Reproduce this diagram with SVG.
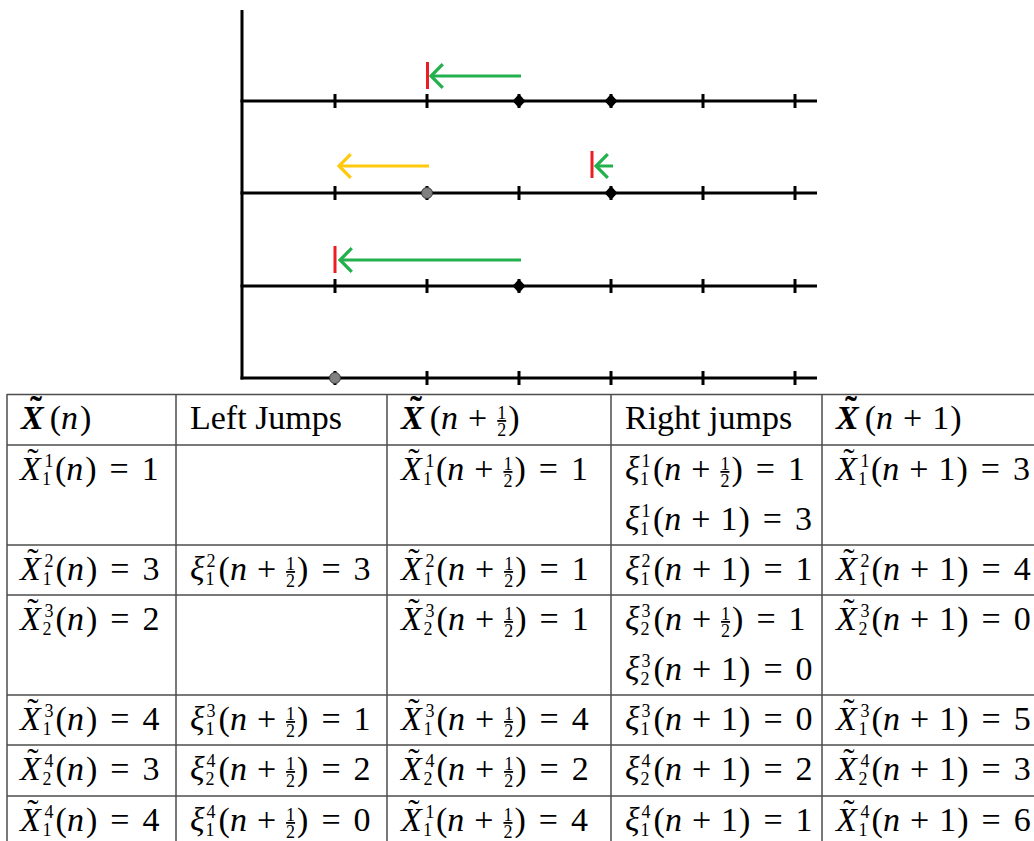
<svg xmlns="http://www.w3.org/2000/svg" width="1034" height="841" viewBox="0 0 1034 841">
<style>
.ax{stroke:#000;stroke-width:3;fill:none}
.tk{stroke:#000;stroke-width:3}
.dm{fill:#000}
.gc{fill:#808080;stroke:#333;stroke-width:1}
.red{stroke:#ed1c24;stroke-width:3}
.grn{stroke:#22b14c;stroke-width:3;fill:none}
.yel{stroke:#ffc90e;stroke-width:3;fill:none}
.grid{stroke:#4d4d4d;stroke-width:1.5;fill:none}
.t{font-family:"Liberation Serif","DejaVu Serif",serif;font-size:34px;fill:#000}
.i{font-style:italic}
.b{font-style:italic;font-weight:bold}
.tb{font-weight:bold;font-size:36px}
.s{font-size:18px}
.u{text-decoration:underline}
</style>
<defs>
<marker id="hg" markerUnits="userSpaceOnUse" markerWidth="20" markerHeight="30" refX="0" refY="0" orient="auto" overflow="visible" viewBox="-14 -14 16 28"><path d="M-11,-11 L0,0 L-11,11" stroke="#22b14c" stroke-width="3" fill="none"/></marker>
<marker id="hy" markerUnits="userSpaceOnUse" markerWidth="20" markerHeight="30" refX="0" refY="0" orient="auto" overflow="visible" viewBox="-14 -14 16 28"><path d="M-11,-11 L0,0 L-11,11" stroke="#ffc90e" stroke-width="3" fill="none"/></marker>
</defs>
<rect width="1034" height="841" fill="#fff"/>

<g id="axes">
<line class="ax" x1="242" y1="10" x2="242" y2="379.5"/>
<line class="ax" x1="240.5" y1="101" x2="817" y2="101"/>
<line class="ax" x1="240.5" y1="193" x2="817" y2="193"/>
<line class="ax" x1="240.5" y1="286" x2="817" y2="286"/>
<line class="ax" x1="240.5" y1="378" x2="817" y2="378"/>
</g>

<g id="ticks">
<path class="tk" d="M335,94V108M427,94V108M519,94V108M611,94V108M703,94V108M795,94V108"/>
<path class="tk" d="M335,186V200M427,186V200M519,186V200M611,186V200M703,186V200M795,186V200"/>
<path class="tk" d="M335,279V293M427,279V293M519,279V293M611,279V293M703,279V293M795,279V293"/>
<path class="tk" d="M335,371V385M427,371V385M519,371V385M611,371V385M703,371V385M795,371V385"/>
</g>

<g id="particle-r1a"><polygon class="dm" points="519,94 525.5,101 519,108 512.5,101"/></g>
<g id="particle-r1b"><polygon class="dm" points="611,94 617.5,101 611,108 604.5,101"/></g>
<g id="particle-r2a"><circle class="gc" cx="427" cy="193" r="5.5"/></g>
<g id="particle-r2b"><polygon class="dm" points="611,186 617.5,193 611,200 604.5,193"/></g>
<g id="particle-r3a"><polygon class="dm" points="519,279 525.5,286 519,293 512.5,286"/></g>
<g id="particle-r4a"><circle class="gc" cx="335" cy="378" r="5.5"/></g>

<g id="barriers">
<line class="red" x1="427.5" y1="62" x2="427.5" y2="89"/>
<line class="red" x1="592" y1="151" x2="592" y2="178"/>
<line class="red" x1="335" y1="246" x2="335" y2="273"/>
</g>

<g id="connectors">
<line class="grn" x1="521" y1="76" x2="431" y2="76" marker-end="url(#hg)"/>
<line class="yel" x1="429" y1="166" x2="339" y2="166" marker-end="url(#hy)"/>
<line class="grn" x1="613" y1="166" x2="596" y2="166" marker-end="url(#hg)"/>
<line class="grn" x1="521" y1="260" x2="340" y2="260" marker-end="url(#hg)"/>
</g>

<g id="table-grid">
<path class="grid" d="M7,394.5H1034M7,445H1034M7,545H1034M7,595H1034M7,695H1034M7,745H1034M7,796H1034"/>
<path class="grid" d="M7,394V841M176,394V841M387,394V841M611,394V841M822,394V841"/>
</g>

<g id="header">
<text class="t" x="21" y="429"><tspan class="b">X</tspan><tspan class="tb" dx="-13.7" dy="-8">˜</tspan><tspan dx="7.7" dy="8">(</tspan><tspan class="i">n</tspan><tspan dx="2">)</tspan></text>
<text class="t" x="190" y="429">Left Jumps</text>
<text class="t" x="401" y="429"><tspan class="b">X</tspan><tspan class="tb" dx="-13.7" dy="-8">˜</tspan><tspan dx="7.7" dy="8">(</tspan><tspan class="i">n</tspan><tspan dx="10">+</tspan><tspan class="s u" dx="10" dy="-10">1</tspan><tspan class="s" dx="-9" dy="17">2</tspan><tspan dx="2" dy="-7">)</tspan></text>
<text class="t" x="625" y="429">Right jumps</text>
<text class="t" x="836" y="429"><tspan class="b">X</tspan><tspan class="tb" dx="-13.7" dy="-8">˜</tspan><tspan dx="7.7" dy="8">(</tspan><tspan class="i">n</tspan><tspan dx="10">+</tspan><tspan dx="10">1</tspan><tspan dx="1">)</tspan></text>
</g>

<g id="row1">
<text class="t" x="20" y="480"><tspan class="i">X</tspan><tspan dx="-13.5" dy="-8">˜</tspan><tspan class="s" dx="6" dy="-5">1</tspan><tspan class="s" dx="-11" dy="18">1</tspan><tspan dx="4" dy="-5">(</tspan><tspan class="i">n</tspan><tspan dx="2">)</tspan><tspan dx="13">=</tspan><tspan dx="13">1</tspan></text>
<text class="t" x="401" y="480"><tspan class="i">X</tspan><tspan dx="-13.5" dy="-8">˜</tspan><tspan class="s" dx="6" dy="-5">1</tspan><tspan class="s" dx="-11" dy="18">1</tspan><tspan dx="4" dy="-5">(</tspan><tspan class="i">n</tspan><tspan dx="10">+</tspan><tspan class="s u" dx="10" dy="-10">1</tspan><tspan class="s" dx="-9" dy="17">2</tspan><tspan dx="2" dy="-7">)</tspan><tspan dx="13">=</tspan><tspan dx="13">1</tspan></text>
<text class="t" x="625" y="480"><tspan class="i">ξ</tspan><tspan class="s" dx="2" dy="-13">1</tspan><tspan class="s" dx="-10" dy="18">1</tspan><tspan dx="4" dy="-5">(</tspan><tspan class="i">n</tspan><tspan dx="10">+</tspan><tspan class="s u" dx="10" dy="-10">1</tspan><tspan class="s" dx="-9" dy="17">2</tspan><tspan dx="2" dy="-7">)</tspan><tspan dx="13">=</tspan><tspan dx="13">1</tspan></text>
<text class="t" x="625" y="530"><tspan class="i">ξ</tspan><tspan class="s" dx="2" dy="-13">1</tspan><tspan class="s" dx="-10" dy="18">1</tspan><tspan dx="4" dy="-5">(</tspan><tspan class="i">n</tspan><tspan dx="10">+</tspan><tspan dx="10">1</tspan><tspan dx="1">)</tspan><tspan dx="13">=</tspan><tspan dx="13">3</tspan></text>
<text class="t" x="836" y="480"><tspan class="i">X</tspan><tspan dx="-13.5" dy="-8">˜</tspan><tspan class="s" dx="6" dy="-5">1</tspan><tspan class="s" dx="-11" dy="18">1</tspan><tspan dx="4" dy="-5">(</tspan><tspan class="i">n</tspan><tspan dx="10">+</tspan><tspan dx="10">1</tspan><tspan dx="1">)</tspan><tspan dx="13">=</tspan><tspan dx="13">3</tspan></text>
</g>

<g id="row2">
<text class="t" x="20" y="580"><tspan class="i">X</tspan><tspan dx="-13.5" dy="-8">˜</tspan><tspan class="s" dx="6" dy="-5">2</tspan><tspan class="s" dx="-11" dy="18">1</tspan><tspan dx="4" dy="-5">(</tspan><tspan class="i">n</tspan><tspan dx="2">)</tspan><tspan dx="13">=</tspan><tspan dx="13">3</tspan></text>
<text class="t" x="190" y="580"><tspan class="i">ξ</tspan><tspan class="s" dx="2" dy="-13">2</tspan><tspan class="s" dx="-10" dy="18">1</tspan><tspan dx="4" dy="-5">(</tspan><tspan class="i">n</tspan><tspan dx="10">+</tspan><tspan class="s u" dx="10" dy="-10">1</tspan><tspan class="s" dx="-9" dy="17">2</tspan><tspan dx="2" dy="-7">)</tspan><tspan dx="13">=</tspan><tspan dx="13">3</tspan></text>
<text class="t" x="401" y="580"><tspan class="i">X</tspan><tspan dx="-13.5" dy="-8">˜</tspan><tspan class="s" dx="6" dy="-5">2</tspan><tspan class="s" dx="-11" dy="18">1</tspan><tspan dx="4" dy="-5">(</tspan><tspan class="i">n</tspan><tspan dx="10">+</tspan><tspan class="s u" dx="10" dy="-10">1</tspan><tspan class="s" dx="-9" dy="17">2</tspan><tspan dx="2" dy="-7">)</tspan><tspan dx="13">=</tspan><tspan dx="13">1</tspan></text>
<text class="t" x="625" y="580"><tspan class="i">ξ</tspan><tspan class="s" dx="2" dy="-13">2</tspan><tspan class="s" dx="-10" dy="18">1</tspan><tspan dx="4" dy="-5">(</tspan><tspan class="i">n</tspan><tspan dx="10">+</tspan><tspan dx="10">1</tspan><tspan dx="1">)</tspan><tspan dx="13">=</tspan><tspan dx="13">1</tspan></text>
<text class="t" x="836" y="580"><tspan class="i">X</tspan><tspan dx="-13.5" dy="-8">˜</tspan><tspan class="s" dx="6" dy="-5">2</tspan><tspan class="s" dx="-11" dy="18">1</tspan><tspan dx="4" dy="-5">(</tspan><tspan class="i">n</tspan><tspan dx="10">+</tspan><tspan dx="10">1</tspan><tspan dx="1">)</tspan><tspan dx="13">=</tspan><tspan dx="13">4</tspan></text>
</g>

<g id="row3">
<text class="t" x="20" y="630"><tspan class="i">X</tspan><tspan dx="-13.5" dy="-8">˜</tspan><tspan class="s" dx="6" dy="-5">3</tspan><tspan class="s" dx="-11" dy="18">2</tspan><tspan dx="4" dy="-5">(</tspan><tspan class="i">n</tspan><tspan dx="2">)</tspan><tspan dx="13">=</tspan><tspan dx="13">2</tspan></text>
<text class="t" x="401" y="630"><tspan class="i">X</tspan><tspan dx="-13.5" dy="-8">˜</tspan><tspan class="s" dx="6" dy="-5">3</tspan><tspan class="s" dx="-11" dy="18">2</tspan><tspan dx="4" dy="-5">(</tspan><tspan class="i">n</tspan><tspan dx="10">+</tspan><tspan class="s u" dx="10" dy="-10">1</tspan><tspan class="s" dx="-9" dy="17">2</tspan><tspan dx="2" dy="-7">)</tspan><tspan dx="13">=</tspan><tspan dx="13">1</tspan></text>
<text class="t" x="625" y="630"><tspan class="i">ξ</tspan><tspan class="s" dx="2" dy="-13">3</tspan><tspan class="s" dx="-10" dy="18">2</tspan><tspan dx="4" dy="-5">(</tspan><tspan class="i">n</tspan><tspan dx="10">+</tspan><tspan class="s u" dx="10" dy="-10">1</tspan><tspan class="s" dx="-9" dy="17">2</tspan><tspan dx="2" dy="-7">)</tspan><tspan dx="13">=</tspan><tspan dx="13">1</tspan></text>
<text class="t" x="625" y="680"><tspan class="i">ξ</tspan><tspan class="s" dx="2" dy="-13">3</tspan><tspan class="s" dx="-10" dy="18">2</tspan><tspan dx="4" dy="-5">(</tspan><tspan class="i">n</tspan><tspan dx="10">+</tspan><tspan dx="10">1</tspan><tspan dx="1">)</tspan><tspan dx="13">=</tspan><tspan dx="13">0</tspan></text>
<text class="t" x="836" y="630"><tspan class="i">X</tspan><tspan dx="-13.5" dy="-8">˜</tspan><tspan class="s" dx="6" dy="-5">3</tspan><tspan class="s" dx="-11" dy="18">2</tspan><tspan dx="4" dy="-5">(</tspan><tspan class="i">n</tspan><tspan dx="10">+</tspan><tspan dx="10">1</tspan><tspan dx="1">)</tspan><tspan dx="13">=</tspan><tspan dx="13">0</tspan></text>
</g>

<g id="row4">
<text class="t" x="20" y="730"><tspan class="i">X</tspan><tspan dx="-13.5" dy="-8">˜</tspan><tspan class="s" dx="6" dy="-5">3</tspan><tspan class="s" dx="-11" dy="18">1</tspan><tspan dx="4" dy="-5">(</tspan><tspan class="i">n</tspan><tspan dx="2">)</tspan><tspan dx="13">=</tspan><tspan dx="13">4</tspan></text>
<text class="t" x="190" y="730"><tspan class="i">ξ</tspan><tspan class="s" dx="2" dy="-13">3</tspan><tspan class="s" dx="-10" dy="18">1</tspan><tspan dx="4" dy="-5">(</tspan><tspan class="i">n</tspan><tspan dx="10">+</tspan><tspan class="s u" dx="10" dy="-10">1</tspan><tspan class="s" dx="-9" dy="17">2</tspan><tspan dx="2" dy="-7">)</tspan><tspan dx="13">=</tspan><tspan dx="13">1</tspan></text>
<text class="t" x="401" y="730"><tspan class="i">X</tspan><tspan dx="-13.5" dy="-8">˜</tspan><tspan class="s" dx="6" dy="-5">3</tspan><tspan class="s" dx="-11" dy="18">1</tspan><tspan dx="4" dy="-5">(</tspan><tspan class="i">n</tspan><tspan dx="10">+</tspan><tspan class="s u" dx="10" dy="-10">1</tspan><tspan class="s" dx="-9" dy="17">2</tspan><tspan dx="2" dy="-7">)</tspan><tspan dx="13">=</tspan><tspan dx="13">4</tspan></text>
<text class="t" x="625" y="730"><tspan class="i">ξ</tspan><tspan class="s" dx="2" dy="-13">3</tspan><tspan class="s" dx="-10" dy="18">1</tspan><tspan dx="4" dy="-5">(</tspan><tspan class="i">n</tspan><tspan dx="10">+</tspan><tspan dx="10">1</tspan><tspan dx="1">)</tspan><tspan dx="13">=</tspan><tspan dx="13">0</tspan></text>
<text class="t" x="836" y="730"><tspan class="i">X</tspan><tspan dx="-13.5" dy="-8">˜</tspan><tspan class="s" dx="6" dy="-5">3</tspan><tspan class="s" dx="-11" dy="18">1</tspan><tspan dx="4" dy="-5">(</tspan><tspan class="i">n</tspan><tspan dx="10">+</tspan><tspan dx="10">1</tspan><tspan dx="1">)</tspan><tspan dx="13">=</tspan><tspan dx="13">5</tspan></text>
</g>

<g id="row5">
<text class="t" x="20" y="780"><tspan class="i">X</tspan><tspan dx="-13.5" dy="-8">˜</tspan><tspan class="s" dx="6" dy="-5">4</tspan><tspan class="s" dx="-11" dy="18">2</tspan><tspan dx="4" dy="-5">(</tspan><tspan class="i">n</tspan><tspan dx="2">)</tspan><tspan dx="13">=</tspan><tspan dx="13">3</tspan></text>
<text class="t" x="190" y="780"><tspan class="i">ξ</tspan><tspan class="s" dx="2" dy="-13">4</tspan><tspan class="s" dx="-10" dy="18">2</tspan><tspan dx="4" dy="-5">(</tspan><tspan class="i">n</tspan><tspan dx="10">+</tspan><tspan class="s u" dx="10" dy="-10">1</tspan><tspan class="s" dx="-9" dy="17">2</tspan><tspan dx="2" dy="-7">)</tspan><tspan dx="13">=</tspan><tspan dx="13">2</tspan></text>
<text class="t" x="401" y="780"><tspan class="i">X</tspan><tspan dx="-13.5" dy="-8">˜</tspan><tspan class="s" dx="6" dy="-5">4</tspan><tspan class="s" dx="-11" dy="18">2</tspan><tspan dx="4" dy="-5">(</tspan><tspan class="i">n</tspan><tspan dx="10">+</tspan><tspan class="s u" dx="10" dy="-10">1</tspan><tspan class="s" dx="-9" dy="17">2</tspan><tspan dx="2" dy="-7">)</tspan><tspan dx="13">=</tspan><tspan dx="13">2</tspan></text>
<text class="t" x="625" y="780"><tspan class="i">ξ</tspan><tspan class="s" dx="2" dy="-13">4</tspan><tspan class="s" dx="-10" dy="18">2</tspan><tspan dx="4" dy="-5">(</tspan><tspan class="i">n</tspan><tspan dx="10">+</tspan><tspan dx="10">1</tspan><tspan dx="1">)</tspan><tspan dx="13">=</tspan><tspan dx="13">2</tspan></text>
<text class="t" x="836" y="780"><tspan class="i">X</tspan><tspan dx="-13.5" dy="-8">˜</tspan><tspan class="s" dx="6" dy="-5">4</tspan><tspan class="s" dx="-11" dy="18">2</tspan><tspan dx="4" dy="-5">(</tspan><tspan class="i">n</tspan><tspan dx="10">+</tspan><tspan dx="10">1</tspan><tspan dx="1">)</tspan><tspan dx="13">=</tspan><tspan dx="13">3</tspan></text>
</g>

<g id="row6">
<text class="t" x="20" y="831"><tspan class="i">X</tspan><tspan dx="-13.5" dy="-8">˜</tspan><tspan class="s" dx="6" dy="-5">4</tspan><tspan class="s" dx="-11" dy="18">1</tspan><tspan dx="4" dy="-5">(</tspan><tspan class="i">n</tspan><tspan dx="2">)</tspan><tspan dx="13">=</tspan><tspan dx="13">4</tspan></text>
<text class="t" x="190" y="831"><tspan class="i">ξ</tspan><tspan class="s" dx="2" dy="-13">4</tspan><tspan class="s" dx="-10" dy="18">1</tspan><tspan dx="4" dy="-5">(</tspan><tspan class="i">n</tspan><tspan dx="10">+</tspan><tspan class="s u" dx="10" dy="-10">1</tspan><tspan class="s" dx="-9" dy="17">2</tspan><tspan dx="2" dy="-7">)</tspan><tspan dx="13">=</tspan><tspan dx="13">0</tspan></text>
<text class="t" x="401" y="831"><tspan class="i">X</tspan><tspan dx="-13.5" dy="-8">˜</tspan><tspan class="s" dx="6" dy="-5">1</tspan><tspan class="s" dx="-11" dy="18">1</tspan><tspan dx="4" dy="-5">(</tspan><tspan class="i">n</tspan><tspan dx="10">+</tspan><tspan class="s u" dx="10" dy="-10">1</tspan><tspan class="s" dx="-9" dy="17">2</tspan><tspan dx="2" dy="-7">)</tspan><tspan dx="13">=</tspan><tspan dx="13">4</tspan></text>
<text class="t" x="625" y="831"><tspan class="i">ξ</tspan><tspan class="s" dx="2" dy="-13">4</tspan><tspan class="s" dx="-10" dy="18">1</tspan><tspan dx="4" dy="-5">(</tspan><tspan class="i">n</tspan><tspan dx="10">+</tspan><tspan dx="10">1</tspan><tspan dx="1">)</tspan><tspan dx="13">=</tspan><tspan dx="13">1</tspan></text>
<text class="t" x="836" y="831"><tspan class="i">X</tspan><tspan dx="-13.5" dy="-8">˜</tspan><tspan class="s" dx="6" dy="-5">4</tspan><tspan class="s" dx="-11" dy="18">1</tspan><tspan dx="4" dy="-5">(</tspan><tspan class="i">n</tspan><tspan dx="10">+</tspan><tspan dx="10">1</tspan><tspan dx="1">)</tspan><tspan dx="13">=</tspan><tspan dx="13">6</tspan></text>
</g>
</svg>
